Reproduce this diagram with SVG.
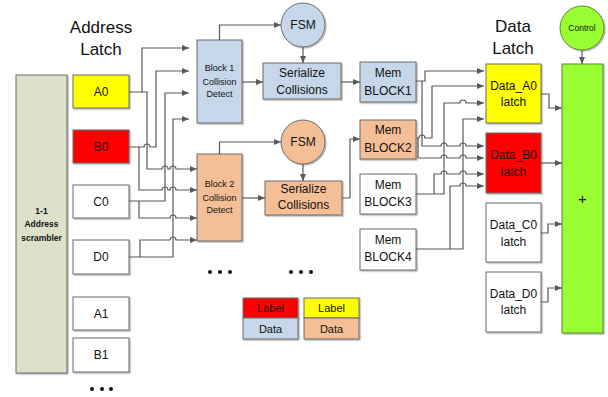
<svg xmlns="http://www.w3.org/2000/svg" width="608" height="397" viewBox="0 0 608 397">
<defs>
<marker id="ah" markerWidth="7" markerHeight="6" refX="7" refY="3" orient="auto" markerUnits="userSpaceOnUse">
<path d="M0,0 L7,3 L0,6 Z" fill="#595959"/>
</marker>
<filter id="sh" x="-10%" y="-10%" width="130%" height="130%">
<feDropShadow dx="1.2" dy="1.2" stdDeviation="0.6" flood-color="#000" flood-opacity="0.3"/>
</filter>
</defs>
<style>
.box{stroke:#6b6b6b;stroke-width:1;filter:url(#sh)}
.w{fill:#ffffff}
.y{fill:#ffff00}
.r{fill:#ff0000}
.b{fill:#c5d7e9}
.o{fill:#f4bf96}
.g{fill:#dde1c9}
.gr{fill:#99ff33;stroke:#5a8a2a}
.c{stroke:#595959;stroke-width:1.2;fill:none}
.a{marker-end:url(#ah)}
text{font-family:"Liberation Sans",Arial,sans-serif;fill:#111;text-anchor:middle}
.t12{font-size:12px}
.t9{font-size:9px}
.t17{font-size:17px}
.dot{fill:#111}
</style>

<g id="title-address"><text class="t17" x="101" y="33">Address</text><text class="t17" x="101" y="55">Latch</text></g>
<g id="title-data"><text class="t17" x="513" y="32">Data</text><text class="t17" x="513" y="54">Latch</text></g>

<g id="scrambler"><rect class="box g" x="16" y="75" width="51" height="298"/>
<text font-size="8.5" font-weight="bold" x="41.5" y="214">1-1</text>
<text font-size="8.5" font-weight="bold" x="41.5" y="227">Address</text>
<text font-size="8.5" font-weight="bold" x="41.5" y="241">scrambler</text></g>

<g id="A0"><rect class="box y" x="73" y="75" width="56" height="33"/><text class="t12" x="101" y="96">A0</text></g>
<g id="B0"><rect class="box r" x="73" y="130" width="56" height="33"/><text class="t12" x="101" y="151">B0</text></g>
<g id="C0"><rect class="box w" x="73" y="185" width="56" height="33"/><text class="t12" x="101" y="206">C0</text></g>
<g id="D0"><rect class="box w" x="73" y="240" width="56" height="34"/><text class="t12" x="101" y="261">D0</text></g>
<g id="A1"><rect class="box w" x="73" y="297" width="56" height="33"/><text class="t12" x="101" y="318">A1</text></g>
<g id="B1"><rect class="box w" x="73" y="338" width="56" height="34"/><text class="t12" x="101" y="359">B1</text></g>

<g id="block1"><rect class="box b" x="197" y="40" width="45" height="83"/>
<text class="t9" x="219.5" y="71">Block 1</text><text class="t9" x="219.5" y="85">Collision</text><text class="t9" x="219.5" y="97">Detect</text></g>
<g id="block2"><rect class="box o" x="197" y="154" width="45" height="87"/>
<text class="t9" x="219.5" y="187">Block 2</text><text class="t9" x="219.5" y="201">Collision</text><text class="t9" x="219.5" y="213">Detect</text></g>

<g id="fsm1"><circle class="box b" cx="303" cy="25" r="22"/><text class="t12" x="303" y="29">FSM</text></g>
<g id="fsm2"><circle class="box o" cx="303" cy="142" r="22"/><text class="t12" x="303" y="146">FSM</text></g>

<g id="ser1"><rect class="box b" x="263" y="63" width="78" height="36"/>
<text class="t12" x="302" y="77">Serialize</text><text class="t12" x="302" y="94">Collisions</text></g>
<g id="ser2"><rect class="box o" x="265" y="181" width="77" height="34"/>
<text class="t12" x="303.5" y="193">Serialize</text><text class="t12" x="303.5" y="209">Collisions</text></g>

<g id="mem1"><rect class="box b" x="360" y="62" width="56" height="40"/><text class="t12" x="388" y="77">Mem</text><text class="t12" x="388" y="95">BLOCK1</text></g>
<g id="mem2"><rect class="box o" x="360" y="120" width="56" height="39"/><text class="t12" x="388" y="134">Mem</text><text class="t12" x="388" y="152">BLOCK2</text></g>
<g id="mem3"><rect class="box w" x="360" y="174" width="56" height="40"/><text class="t12" x="388" y="189">Mem</text><text class="t12" x="388" y="206">BLOCK3</text></g>
<g id="mem4"><rect class="box w" x="360" y="229" width="56" height="41"/><text class="t12" x="388" y="244">Mem</text><text class="t12" x="388" y="261">BLOCK4</text></g>

<g id="dA0"><rect class="box y" x="486" y="64" width="55" height="59"/><text class="t12" x="513.5" y="90">Data_A0</text><text class="t12" x="513.5" y="106">latch</text></g>
<g id="dB0"><rect class="box r" x="486" y="133" width="55" height="60"/><text class="t12" x="513.5" y="159">Data_B0</text><text class="t12" x="513.5" y="176">latch</text></g>
<g id="dC0"><rect class="box w" x="486" y="203" width="55" height="59"/><text class="t12" x="513.5" y="229">Data_C0</text><text class="t12" x="513.5" y="246">latch</text></g>
<g id="dD0"><rect class="box w" x="486" y="272" width="55" height="60"/><text class="t12" x="513.5" y="298">Data_D0</text><text class="t12" x="513.5" y="314">latch</text></g>

<g id="control"><circle class="box gr" cx="582" cy="28" r="22"/><text font-size="8.5" x="582" y="31">Control</text></g>
<g id="adder"><rect class="box gr" x="562" y="64" width="41" height="269"/><text font-size="15" x="582.5" y="204">+</text></g>

<g id="legend">
<rect class="box r" x="243" y="298" width="55" height="20"/><text font-size="11" x="270.5" y="312">Label</text>
<rect class="box b" x="243" y="318" width="55" height="21"/><text font-size="11" x="270.5" y="333">Data</text>
<rect class="box y" x="304" y="298" width="55" height="20"/><text font-size="11" x="331.5" y="312">Label</text>
<rect class="box o" x="304" y="318" width="55" height="21"/><text font-size="11" x="331.5" y="333">Data</text>
</g>

<g id="ellipses">
<circle class="dot" cx="210" cy="272" r="2"/><circle class="dot" cx="220" cy="272" r="2"/><circle class="dot" cx="230" cy="272" r="2"/>
<circle class="dot" cx="291" cy="272" r="2"/><circle class="dot" cx="301" cy="272" r="2"/><circle class="dot" cx="311" cy="272" r="2"/>
<circle class="dot" cx="92" cy="389" r="2"/><circle class="dot" cx="102" cy="389" r="2"/><circle class="dot" cx="111" cy="389" r="2"/>
</g>

<g id="connectors">
<!-- A0 -->
<path class="c a" d="M129,92 H142 V48 H189"/>
<path class="c a" d="M142,92 H147 V169 H162 a3,3 0 0 1 6,0 H170 a3,3 0 0 1 6,0 H197"/>
<!-- B0 -->
<path class="c a" d="M129,147 H144 a3,3 0 0 1 6,0 H156 V71 H189"/>
<path class="c a" d="M139,147 V190 H162 a3,3 0 0 1 6,0 H170 a3,3 0 0 1 6,0 H197"/>
<!-- C0 -->
<path class="c a" d="M129,201 H165 V93 H189"/>
<path class="c a" d="M139,201 V218 H170 a3,3 0 0 1 6,0 H197"/>
<!-- D0 -->
<path class="c a" d="M129,257 H173 V119 H189"/>
<path class="c a" d="M140,257 V240 H170 a3,3 0 0 1 6,0 H197"/>
<!-- blocks to FSM / serialize -->
<path class="c a" d="M219.5,40 V25 H281"/>
<path class="c a" d="M219.5,154 V142 H281"/>
<path class="c a" d="M303,47 V63"/>
<path class="c a" d="M303,164 V181"/>
<path class="c a" d="M242,82 H263"/>
<path class="c a" d="M242,198 H265"/>
<path class="c a" d="M341,82 H360"/>
<path class="c a" d="M342,198 H350 V139 H360"/>
<!-- mem to data latches -->
<path class="c a" d="M416,81 H425 V71 H484"/>
<path class="c a" d="M422,81 V146 H441 a3,3 0 0 1 6,0 H460 a3,3 0 0 1 6,0 H484"/>
<path class="c a" d="M416,138 H419 a3,3 0 0 1 6,0 H432 V86 H484"/>
<path class="c a" d="M418,138 V158 H441 a3,3 0 0 1 6,0 H460 a3,3 0 0 1 6,0 H484"/>
<path class="c a" d="M416,194 H444 V103 H460 a3,3 0 0 1 6,0 H484"/>
<path class="c a" d="M434,194 V174 H441 a3,3 0 0 1 6,0 H460 a3,3 0 0 1 6,0 H484"/>
<path class="c a" d="M416,249 H463 V119 H484"/>
<path class="c a" d="M450,249 V186 H460 a3,3 0 0 1 6,0 H484"/>
<!-- data latches to adder -->
<path class="c a" d="M541,94 H549 V108 H562"/>
<path class="c a" d="M541,163 H562"/>
<path class="c a" d="M541,233 H548 V224 H562"/>
<path class="c a" d="M541,302 H548 V288 H562"/>
<path class="c a" d="M582,50 V64"/>
</g>
</svg>
